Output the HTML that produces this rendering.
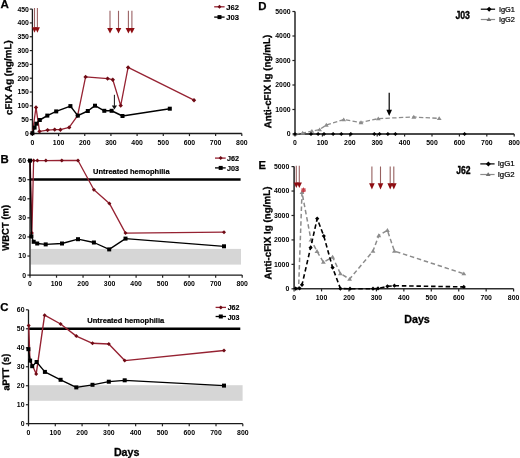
<!DOCTYPE html><html><head><meta charset="utf-8"><style>html,body{margin:0;padding:0;background:#fff}svg{display:block;will-change:transform}text{font-family:"Liberation Sans",sans-serif}</style></head><body>
<svg width="520" height="458" viewBox="0 0 520 458">
<rect width="520" height="458" fill="#fff"/>
<line x1="32.4" y1="9.1" x2="32.4" y2="134.1" stroke="#1a1a1a" stroke-width="1.3"/>
<line x1="31.8" y1="133.5" x2="241.8" y2="133.5" stroke="#1a1a1a" stroke-width="1.3"/>
<line x1="29.8" y1="133.5" x2="32.4" y2="133.5" stroke="#222" stroke-width="1.2"/>
<text x="28.9" y="135.9" font-size="6.9" font-weight="bold" text-anchor="end" fill="#000">0</text>
<line x1="29.8" y1="119.68" x2="32.4" y2="119.68" stroke="#222" stroke-width="1.2"/>
<text x="28.9" y="122.08" font-size="6.9" font-weight="bold" text-anchor="end" fill="#000">50</text>
<line x1="29.8" y1="105.86" x2="32.4" y2="105.86" stroke="#222" stroke-width="1.2"/>
<text x="28.9" y="108.26" font-size="6.9" font-weight="bold" text-anchor="end" fill="#000">100</text>
<line x1="29.8" y1="92.03" x2="32.4" y2="92.03" stroke="#222" stroke-width="1.2"/>
<text x="28.9" y="94.43" font-size="6.9" font-weight="bold" text-anchor="end" fill="#000">150</text>
<line x1="29.8" y1="78.21" x2="32.4" y2="78.21" stroke="#222" stroke-width="1.2"/>
<text x="28.9" y="80.61" font-size="6.9" font-weight="bold" text-anchor="end" fill="#000">200</text>
<line x1="29.8" y1="64.39" x2="32.4" y2="64.39" stroke="#222" stroke-width="1.2"/>
<text x="28.9" y="66.79" font-size="6.9" font-weight="bold" text-anchor="end" fill="#000">250</text>
<line x1="29.8" y1="50.57" x2="32.4" y2="50.57" stroke="#222" stroke-width="1.2"/>
<text x="28.9" y="52.97" font-size="6.9" font-weight="bold" text-anchor="end" fill="#000">300</text>
<line x1="29.8" y1="36.74" x2="32.4" y2="36.74" stroke="#222" stroke-width="1.2"/>
<text x="28.9" y="39.14" font-size="6.9" font-weight="bold" text-anchor="end" fill="#000">350</text>
<line x1="29.8" y1="22.92" x2="32.4" y2="22.92" stroke="#222" stroke-width="1.2"/>
<text x="28.9" y="25.32" font-size="6.9" font-weight="bold" text-anchor="end" fill="#000">400</text>
<line x1="29.8" y1="9.1" x2="32.4" y2="9.1" stroke="#222" stroke-width="1.2"/>
<text x="28.9" y="11.5" font-size="6.9" font-weight="bold" text-anchor="end" fill="#000">450</text>
<line x1="32.4" y1="133.5" x2="32.4" y2="136.1" stroke="#222" stroke-width="1.2"/>
<text x="32.4" y="144.9" font-size="6.9" font-weight="bold" text-anchor="middle" fill="#000">0</text>
<line x1="58.58" y1="133.5" x2="58.58" y2="136.1" stroke="#222" stroke-width="1.2"/>
<text x="58.58" y="144.9" font-size="6.9" font-weight="bold" text-anchor="middle" fill="#000">100</text>
<line x1="84.75" y1="133.5" x2="84.75" y2="136.1" stroke="#222" stroke-width="1.2"/>
<text x="84.75" y="144.9" font-size="6.9" font-weight="bold" text-anchor="middle" fill="#000">200</text>
<line x1="110.93" y1="133.5" x2="110.93" y2="136.1" stroke="#222" stroke-width="1.2"/>
<text x="110.93" y="144.9" font-size="6.9" font-weight="bold" text-anchor="middle" fill="#000">300</text>
<line x1="137.1" y1="133.5" x2="137.1" y2="136.1" stroke="#222" stroke-width="1.2"/>
<text x="137.1" y="144.9" font-size="6.9" font-weight="bold" text-anchor="middle" fill="#000">400</text>
<line x1="163.28" y1="133.5" x2="163.28" y2="136.1" stroke="#222" stroke-width="1.2"/>
<text x="163.28" y="144.9" font-size="6.9" font-weight="bold" text-anchor="middle" fill="#000">500</text>
<line x1="189.45" y1="133.5" x2="189.45" y2="136.1" stroke="#222" stroke-width="1.2"/>
<text x="189.45" y="144.9" font-size="6.9" font-weight="bold" text-anchor="middle" fill="#000">600</text>
<line x1="215.62" y1="133.5" x2="215.62" y2="136.1" stroke="#222" stroke-width="1.2"/>
<text x="215.62" y="144.9" font-size="6.9" font-weight="bold" text-anchor="middle" fill="#000">700</text>
<line x1="241.8" y1="133.5" x2="241.8" y2="136.1" stroke="#222" stroke-width="1.2"/>
<text x="241.8" y="144.9" font-size="6.9" font-weight="bold" text-anchor="middle" fill="#000">800</text>
<text transform="translate(11.6,77.6) rotate(-90.9)" x="0" y="0" font-size="9.7" font-weight="bold" text-anchor="middle" stroke="#000" stroke-width="0.3" textLength="74.6" lengthAdjust="spacingAndGlyphs">cFIX Ag (ng/mL)</text>
<text x="0.5" y="8.1" font-size="11.6" font-weight="bold" text-anchor="start" fill="#000" stroke="#000" stroke-width="0.25">A</text>
<polyline points="32.4,133.2 36,107.4 39.5,131.4 47.6,130.1 54.7,129.6 60.4,129.7 69.2,127.4 77.6,115.6 85.6,76.9 107.6,78.6 112.8,79.7 120.7,105.6 128.1,67.4 194,100.2" fill="none" stroke="#962232" stroke-width="1.3" stroke-linejoin="round"/>
<path d="M32.4 131L34.6 133.2L32.4 135.4L30.2 133.2Z" fill="#6e0a14"/>
<path d="M36 105.2L38.2 107.4L36 109.6L33.8 107.4Z" fill="#6e0a14"/>
<path d="M39.5 129.2L41.7 131.4L39.5 133.6L37.3 131.4Z" fill="#6e0a14"/>
<path d="M47.6 127.9L49.8 130.1L47.6 132.3L45.4 130.1Z" fill="#6e0a14"/>
<path d="M54.7 127.4L56.9 129.6L54.7 131.8L52.5 129.6Z" fill="#6e0a14"/>
<path d="M60.4 127.5L62.6 129.7L60.4 131.9L58.2 129.7Z" fill="#6e0a14"/>
<path d="M69.2 125.2L71.4 127.4L69.2 129.6L67 127.4Z" fill="#6e0a14"/>
<path d="M77.6 113.4L79.8 115.6L77.6 117.8L75.4 115.6Z" fill="#6e0a14"/>
<path d="M85.6 74.7L87.8 76.9L85.6 79.1L83.4 76.9Z" fill="#6e0a14"/>
<path d="M107.6 76.4L109.8 78.6L107.6 80.8L105.4 78.6Z" fill="#6e0a14"/>
<path d="M112.8 77.5L115 79.7L112.8 81.9L110.6 79.7Z" fill="#6e0a14"/>
<path d="M120.7 103.4L122.9 105.6L120.7 107.8L118.5 105.6Z" fill="#6e0a14"/>
<path d="M128.1 65.2L130.3 67.4L128.1 69.6L125.9 67.4Z" fill="#6e0a14"/>
<path d="M194 98L196.2 100.2L194 102.4L191.8 100.2Z" fill="#6e0a14"/>
<polyline points="32.4,133.2 34.6,127.6 36.3,123.7 39.8,120 47.3,115.6 56.2,111.4 70.4,106.1 77.8,115.6 87.8,111 95,105.7 104.3,110.8 111.6,110.8 122.5,116 169.8,108.7" fill="none" stroke="#000" stroke-width="1.5" stroke-linejoin="round"/>
<rect x="30.4" y="131.2" width="4" height="4" fill="#000"/>
<rect x="32.6" y="125.6" width="4" height="4" fill="#000"/>
<rect x="34.3" y="121.7" width="4" height="4" fill="#000"/>
<rect x="37.8" y="118" width="4" height="4" fill="#000"/>
<rect x="45.3" y="113.6" width="4" height="4" fill="#000"/>
<rect x="54.2" y="109.4" width="4" height="4" fill="#000"/>
<rect x="68.4" y="104.1" width="4" height="4" fill="#000"/>
<rect x="75.8" y="113.6" width="4" height="4" fill="#000"/>
<rect x="85.8" y="109" width="4" height="4" fill="#000"/>
<rect x="93" y="103.7" width="4" height="4" fill="#000"/>
<rect x="102.3" y="108.8" width="4" height="4" fill="#000"/>
<rect x="109.6" y="108.8" width="4" height="4" fill="#000"/>
<rect x="120.5" y="114" width="4" height="4" fill="#000"/>
<rect x="167.8" y="106.7" width="4" height="4" fill="#000"/>
<line x1="114.4" y1="94.8" x2="114.4" y2="105.9" stroke="#111" stroke-width="1.0"/>
<path d="M111.8 105.4L117 105.4L114.4 109.6Z" fill="#111"/>
<line x1="34.5" y1="8" x2="34.5" y2="27.8" stroke="#9a6264" stroke-width="1.1"/>
<path d="M32 27.3L37 27.3L34.5 32.8Z" fill="#8e0d12"/>
<line x1="37.4" y1="8" x2="37.4" y2="27.8" stroke="#9a6264" stroke-width="1.1"/>
<path d="M34.9 27.3L39.9 27.3L37.4 32.8Z" fill="#8e0d12"/>
<line x1="110" y1="10.8" x2="110" y2="28.4" stroke="#9a6264" stroke-width="1.1"/>
<path d="M107.2 27.9L112.8 27.9L110 33.6Z" fill="#8e0d12"/>
<line x1="118.5" y1="10.8" x2="118.5" y2="28.4" stroke="#9a6264" stroke-width="1.1"/>
<path d="M115.7 27.9L121.3 27.9L118.5 33.6Z" fill="#8e0d12"/>
<line x1="128.4" y1="10.8" x2="128.4" y2="28.4" stroke="#9a6264" stroke-width="1.1"/>
<path d="M125.6 27.9L131.2 27.9L128.4 33.6Z" fill="#8e0d12"/>
<line x1="131.9" y1="10.8" x2="131.9" y2="28.4" stroke="#9a6264" stroke-width="1.1"/>
<path d="M129.1 27.9L134.7 27.9L131.9 33.6Z" fill="#8e0d12"/>
<polyline points="214.2,6.8 224.6,6.8" fill="none" stroke="#962232" stroke-width="1.3" stroke-linejoin="round"/>
<path d="M219.5 4.8L221.5 6.8L219.5 8.8L217.5 6.8Z" fill="#6e0a14"/>
<text x="226.2" y="9.6" font-size="7.6" font-weight="bold" text-anchor="start" fill="#000" textLength="12.7" lengthAdjust="spacingAndGlyphs" stroke="#000" stroke-width="0.15">J62</text>
<polyline points="214.2,17.1 224.6,17.1" fill="none" stroke="#000" stroke-width="1.3" stroke-linejoin="round"/>
<rect x="217.5" y="15.1" width="4" height="4" fill="#000"/>
<text x="226.2" y="19.8" font-size="7.6" font-weight="bold" text-anchor="start" fill="#000" textLength="12.7" lengthAdjust="spacingAndGlyphs" stroke="#000" stroke-width="0.15">J03</text>
<rect x="30.6" y="248.9" width="210.4" height="15.7" fill="#d6d6d6"/>
<line x1="30" y1="160.6" x2="30" y2="275.7" stroke="#1a1a1a" stroke-width="1.3"/>
<line x1="29.4" y1="275.1" x2="242.2" y2="275.1" stroke="#1a1a1a" stroke-width="1.3"/>
<line x1="27.4" y1="275.1" x2="30" y2="275.1" stroke="#222" stroke-width="1.2"/>
<text x="26" y="277.5" font-size="6.9" font-weight="bold" text-anchor="end" fill="#000">0</text>
<line x1="27.4" y1="256.02" x2="30" y2="256.02" stroke="#222" stroke-width="1.2"/>
<text x="26" y="258.42" font-size="6.9" font-weight="bold" text-anchor="end" fill="#000">10</text>
<line x1="27.4" y1="236.93" x2="30" y2="236.93" stroke="#222" stroke-width="1.2"/>
<text x="26" y="239.33" font-size="6.9" font-weight="bold" text-anchor="end" fill="#000">20</text>
<line x1="27.4" y1="217.85" x2="30" y2="217.85" stroke="#222" stroke-width="1.2"/>
<text x="26" y="220.25" font-size="6.9" font-weight="bold" text-anchor="end" fill="#000">30</text>
<line x1="27.4" y1="198.77" x2="30" y2="198.77" stroke="#222" stroke-width="1.2"/>
<text x="26" y="201.17" font-size="6.9" font-weight="bold" text-anchor="end" fill="#000">40</text>
<line x1="27.4" y1="179.68" x2="30" y2="179.68" stroke="#222" stroke-width="1.2"/>
<text x="26" y="182.08" font-size="6.9" font-weight="bold" text-anchor="end" fill="#000">50</text>
<line x1="27.4" y1="160.6" x2="30" y2="160.6" stroke="#222" stroke-width="1.2"/>
<text x="26" y="163" font-size="6.9" font-weight="bold" text-anchor="end" fill="#000">60</text>
<line x1="30" y1="275.1" x2="30" y2="277.7" stroke="#222" stroke-width="1.2"/>
<text x="30" y="285.9" font-size="6.9" font-weight="bold" text-anchor="middle" fill="#000">0</text>
<line x1="56.52" y1="275.1" x2="56.52" y2="277.7" stroke="#222" stroke-width="1.2"/>
<text x="56.52" y="285.9" font-size="6.9" font-weight="bold" text-anchor="middle" fill="#000">100</text>
<line x1="83.05" y1="275.1" x2="83.05" y2="277.7" stroke="#222" stroke-width="1.2"/>
<text x="83.05" y="285.9" font-size="6.9" font-weight="bold" text-anchor="middle" fill="#000">200</text>
<line x1="109.57" y1="275.1" x2="109.57" y2="277.7" stroke="#222" stroke-width="1.2"/>
<text x="109.57" y="285.9" font-size="6.9" font-weight="bold" text-anchor="middle" fill="#000">300</text>
<line x1="136.1" y1="275.1" x2="136.1" y2="277.7" stroke="#222" stroke-width="1.2"/>
<text x="136.1" y="285.9" font-size="6.9" font-weight="bold" text-anchor="middle" fill="#000">400</text>
<line x1="162.62" y1="275.1" x2="162.62" y2="277.7" stroke="#222" stroke-width="1.2"/>
<text x="162.62" y="285.9" font-size="6.9" font-weight="bold" text-anchor="middle" fill="#000">500</text>
<line x1="189.15" y1="275.1" x2="189.15" y2="277.7" stroke="#222" stroke-width="1.2"/>
<text x="189.15" y="285.9" font-size="6.9" font-weight="bold" text-anchor="middle" fill="#000">600</text>
<line x1="215.67" y1="275.1" x2="215.67" y2="277.7" stroke="#222" stroke-width="1.2"/>
<text x="215.67" y="285.9" font-size="6.9" font-weight="bold" text-anchor="middle" fill="#000">700</text>
<line x1="242.2" y1="275.1" x2="242.2" y2="277.7" stroke="#222" stroke-width="1.2"/>
<text x="242.2" y="285.9" font-size="6.9" font-weight="bold" text-anchor="middle" fill="#000">800</text>
<text transform="translate(8.7,227.8) rotate(-90.9)" x="0" y="0" font-size="9.7" font-weight="bold" text-anchor="middle" stroke="#000" stroke-width="0.3" textLength="46" lengthAdjust="spacingAndGlyphs">WBCT (m)</text>
<text x="0.5" y="163" font-size="11.4" font-weight="bold" text-anchor="start" fill="#000" stroke="#000" stroke-width="0.25">B</text>
<line x1="30.0" y1="179.5" x2="240.6" y2="179.5" stroke="#000" stroke-width="2.4"/>
<text x="93" y="174" font-size="7.5" font-weight="bold" text-anchor="start" fill="#000" textLength="76.6" lengthAdjust="spacingAndGlyphs" stroke="#000" stroke-width="0.2">Untreated hemophilia</text>
<polyline points="30.2,160.6 31.9,233 33.6,160.6 37.4,160.6 45.9,160.6 61.8,160.5 78,160.5 93.9,189.7 109.4,203.4 125.5,233.1 224,232.2" fill="none" stroke="#962232" stroke-width="1.3" stroke-linejoin="round"/>
<path d="M33.6 158.6L35.6 160.6L33.6 162.6L31.6 160.6Z" fill="#6e0a14"/>
<path d="M37.4 158.6L39.4 160.6L37.4 162.6L35.4 160.6Z" fill="#6e0a14"/>
<path d="M45.9 158.6L47.9 160.6L45.9 162.6L43.9 160.6Z" fill="#6e0a14"/>
<path d="M61.8 158.5L63.8 160.5L61.8 162.5L59.8 160.5Z" fill="#6e0a14"/>
<path d="M78 158.5L80 160.5L78 162.5L76 160.5Z" fill="#6e0a14"/>
<path d="M93.9 187.7L95.9 189.7L93.9 191.7L91.9 189.7Z" fill="#6e0a14"/>
<path d="M109.4 201.4L111.4 203.4L109.4 205.4L107.4 203.4Z" fill="#6e0a14"/>
<path d="M125.5 231.1L127.5 233.1L125.5 235.1L123.5 233.1Z" fill="#6e0a14"/>
<path d="M224 230.2L226 232.2L224 234.2L222 232.2Z" fill="#6e0a14"/>
<path d="M31.9 231L33.9 233L31.9 235L29.9 233Z" fill="#6e0a14"/>
<polyline points="30,160.6 31.4,236.4 33.7,241.8 37.2,243.5 45.7,244.4 62,243.5 78,239.2 93.9,242.5 109.2,249.4 125.5,238.6 224,246.3" fill="none" stroke="#000" stroke-width="1.3" stroke-linejoin="round"/>
<rect x="28" y="158.6" width="4" height="4" fill="#000"/>
<rect x="29.4" y="234.4" width="4" height="4" fill="#000"/>
<rect x="31.7" y="239.8" width="4" height="4" fill="#000"/>
<rect x="35.2" y="241.5" width="4" height="4" fill="#000"/>
<rect x="43.7" y="242.4" width="4" height="4" fill="#000"/>
<rect x="60" y="241.5" width="4" height="4" fill="#000"/>
<rect x="76" y="237.2" width="4" height="4" fill="#000"/>
<rect x="91.9" y="240.5" width="4" height="4" fill="#000"/>
<rect x="107.2" y="247.4" width="4" height="4" fill="#000"/>
<rect x="123.5" y="236.6" width="4" height="4" fill="#000"/>
<rect x="222" y="244.3" width="4" height="4" fill="#000"/>
<polyline points="215,158.1 225.7,158.1" fill="none" stroke="#962232" stroke-width="1.3" stroke-linejoin="round"/>
<path d="M220.7 156.1L222.7 158.1L220.7 160.1L218.7 158.1Z" fill="#6e0a14"/>
<text x="227" y="160.8" font-size="7.0" font-weight="bold" text-anchor="start" fill="#000" textLength="12.1" lengthAdjust="spacingAndGlyphs" stroke="#000" stroke-width="0.15">J62</text>
<polyline points="215,167.9 225.7,167.9" fill="none" stroke="#000" stroke-width="1.3" stroke-linejoin="round"/>
<rect x="218.7" y="165.9" width="4" height="4" fill="#000"/>
<text x="227" y="170.6" font-size="7.0" font-weight="bold" text-anchor="start" fill="#000" textLength="12.1" lengthAdjust="spacingAndGlyphs" stroke="#000" stroke-width="0.15">J03</text>
<rect x="29.1" y="385.2" width="213.5" height="15.6" fill="#d6d6d6"/>
<line x1="28.5" y1="309.8" x2="28.5" y2="424.3" stroke="#1a1a1a" stroke-width="1.3"/>
<line x1="27.9" y1="423.7" x2="242.8" y2="423.7" stroke="#1a1a1a" stroke-width="1.3"/>
<line x1="25.9" y1="423.7" x2="28.5" y2="423.7" stroke="#222" stroke-width="1.2"/>
<text x="24.5" y="426.1" font-size="6.9" font-weight="bold" text-anchor="end" fill="#000">0</text>
<line x1="25.9" y1="404.72" x2="28.5" y2="404.72" stroke="#222" stroke-width="1.2"/>
<text x="24.5" y="407.12" font-size="6.9" font-weight="bold" text-anchor="end" fill="#000">10</text>
<line x1="25.9" y1="385.73" x2="28.5" y2="385.73" stroke="#222" stroke-width="1.2"/>
<text x="24.5" y="388.13" font-size="6.9" font-weight="bold" text-anchor="end" fill="#000">20</text>
<line x1="25.9" y1="366.75" x2="28.5" y2="366.75" stroke="#222" stroke-width="1.2"/>
<text x="24.5" y="369.15" font-size="6.9" font-weight="bold" text-anchor="end" fill="#000">30</text>
<line x1="25.9" y1="347.77" x2="28.5" y2="347.77" stroke="#222" stroke-width="1.2"/>
<text x="24.5" y="350.17" font-size="6.9" font-weight="bold" text-anchor="end" fill="#000">40</text>
<line x1="25.9" y1="328.78" x2="28.5" y2="328.78" stroke="#222" stroke-width="1.2"/>
<text x="24.5" y="331.18" font-size="6.9" font-weight="bold" text-anchor="end" fill="#000">50</text>
<line x1="25.9" y1="309.8" x2="28.5" y2="309.8" stroke="#222" stroke-width="1.2"/>
<text x="24.5" y="312.2" font-size="6.9" font-weight="bold" text-anchor="end" fill="#000">60</text>
<line x1="28.5" y1="423.7" x2="28.5" y2="426.3" stroke="#222" stroke-width="1.2"/>
<text x="28.5" y="435.1" font-size="6.9" font-weight="bold" text-anchor="middle" fill="#000">0</text>
<line x1="55.29" y1="423.7" x2="55.29" y2="426.3" stroke="#222" stroke-width="1.2"/>
<text x="55.29" y="435.1" font-size="6.9" font-weight="bold" text-anchor="middle" fill="#000">100</text>
<line x1="82.08" y1="423.7" x2="82.08" y2="426.3" stroke="#222" stroke-width="1.2"/>
<text x="82.08" y="435.1" font-size="6.9" font-weight="bold" text-anchor="middle" fill="#000">200</text>
<line x1="108.86" y1="423.7" x2="108.86" y2="426.3" stroke="#222" stroke-width="1.2"/>
<text x="108.86" y="435.1" font-size="6.9" font-weight="bold" text-anchor="middle" fill="#000">300</text>
<line x1="135.65" y1="423.7" x2="135.65" y2="426.3" stroke="#222" stroke-width="1.2"/>
<text x="135.65" y="435.1" font-size="6.9" font-weight="bold" text-anchor="middle" fill="#000">400</text>
<line x1="162.44" y1="423.7" x2="162.44" y2="426.3" stroke="#222" stroke-width="1.2"/>
<text x="162.44" y="435.1" font-size="6.9" font-weight="bold" text-anchor="middle" fill="#000">500</text>
<line x1="189.23" y1="423.7" x2="189.23" y2="426.3" stroke="#222" stroke-width="1.2"/>
<text x="189.23" y="435.1" font-size="6.9" font-weight="bold" text-anchor="middle" fill="#000">600</text>
<line x1="216.01" y1="423.7" x2="216.01" y2="426.3" stroke="#222" stroke-width="1.2"/>
<text x="216.01" y="435.1" font-size="6.9" font-weight="bold" text-anchor="middle" fill="#000">700</text>
<line x1="242.8" y1="423.7" x2="242.8" y2="426.3" stroke="#222" stroke-width="1.2"/>
<text x="242.8" y="435.1" font-size="6.9" font-weight="bold" text-anchor="middle" fill="#000">800</text>
<text transform="translate(9.1,372.1) rotate(-90.9)" x="0" y="0" font-size="9.7" font-weight="bold" text-anchor="middle" stroke="#000" stroke-width="0.3" textLength="37" lengthAdjust="spacingAndGlyphs">aPTT (s)</text>
<text x="0.3" y="311.2" font-size="11.4" font-weight="bold" text-anchor="start" fill="#000" stroke="#000" stroke-width="0.25">C</text>
<line x1="28.5" y1="328.8" x2="240.3" y2="328.8" stroke="#000" stroke-width="2.4"/>
<text x="87.3" y="323.3" font-size="7.5" font-weight="bold" text-anchor="start" fill="#000" textLength="76.9" lengthAdjust="spacingAndGlyphs" stroke="#000" stroke-width="0.2">Untreated hemophilia</text>
<polyline points="28.7,325.6 29.9,359.5 36.2,374 44.6,315.2 60.6,324 76.3,336.1 92.5,343.3 108.8,344 124.7,360.6 224,350.5" fill="none" stroke="#962232" stroke-width="1.4" stroke-linejoin="round"/>
<path d="M28.7 323.6L30.7 325.6L28.7 327.6L26.7 325.6Z" fill="#6e0a14"/>
<path d="M36.2 372L38.2 374L36.2 376L34.2 374Z" fill="#6e0a14"/>
<path d="M44.6 313.2L46.6 315.2L44.6 317.2L42.6 315.2Z" fill="#6e0a14"/>
<path d="M60.6 322L62.6 324L60.6 326L58.6 324Z" fill="#6e0a14"/>
<path d="M76.3 334.1L78.3 336.1L76.3 338.1L74.3 336.1Z" fill="#6e0a14"/>
<path d="M92.5 341.3L94.5 343.3L92.5 345.3L90.5 343.3Z" fill="#6e0a14"/>
<path d="M108.8 342L110.8 344L108.8 346L106.8 344Z" fill="#6e0a14"/>
<path d="M124.7 358.6L126.7 360.6L124.7 362.6L122.7 360.6Z" fill="#6e0a14"/>
<path d="M224 348.5L226 350.5L224 352.5L222 350.5Z" fill="#6e0a14"/>
<polyline points="28.4,349.2 30.1,360.6 32.2,366.2 36.6,362 44.9,371.9 60.6,379.8 76.3,387.4 92.5,384.8 108.8,381.7 124.7,380.3 224,385.6" fill="none" stroke="#000" stroke-width="1.3" stroke-linejoin="round"/>
<rect x="26.4" y="347.2" width="4" height="4" fill="#000"/>
<rect x="28.1" y="358.6" width="4" height="4" fill="#000"/>
<rect x="30.2" y="364.2" width="4" height="4" fill="#000"/>
<rect x="34.6" y="360" width="4" height="4" fill="#000"/>
<rect x="42.9" y="369.9" width="4" height="4" fill="#000"/>
<rect x="58.6" y="377.8" width="4" height="4" fill="#000"/>
<rect x="74.3" y="385.4" width="4" height="4" fill="#000"/>
<rect x="90.5" y="382.8" width="4" height="4" fill="#000"/>
<rect x="106.8" y="379.7" width="4" height="4" fill="#000"/>
<rect x="122.7" y="378.3" width="4" height="4" fill="#000"/>
<rect x="222" y="383.6" width="4" height="4" fill="#000"/>
<polyline points="215.6,307.4 226,307.4" fill="none" stroke="#962232" stroke-width="1.3" stroke-linejoin="round"/>
<path d="M220.8 305.4L222.8 307.4L220.8 309.4L218.8 307.4Z" fill="#6e0a14"/>
<text x="227.7" y="310.2" font-size="7.0" font-weight="bold" text-anchor="start" fill="#000" textLength="11.8" lengthAdjust="spacingAndGlyphs" stroke="#000" stroke-width="0.15">J62</text>
<polyline points="215.6,316.5 226,316.5" fill="none" stroke="#000" stroke-width="1.3" stroke-linejoin="round"/>
<rect x="218.8" y="314.5" width="4" height="4" fill="#000"/>
<text x="227.7" y="319.5" font-size="7.0" font-weight="bold" text-anchor="start" fill="#000" textLength="11.8" lengthAdjust="spacingAndGlyphs" stroke="#000" stroke-width="0.15">J03</text>
<text x="113.9" y="455.7" font-size="10.9" font-weight="bold" text-anchor="start" fill="#000" textLength="25.6" lengthAdjust="spacingAndGlyphs" stroke="#000" stroke-width="0.3">Days</text>
<line x1="295" y1="11.5" x2="295" y2="134.6" stroke="#4a4a4a" stroke-width="1.8"/>
<line x1="294.4" y1="134" x2="514.2" y2="134" stroke="#4a4a4a" stroke-width="1.8"/>
<line x1="292.4" y1="134" x2="295" y2="134" stroke="#222" stroke-width="1.2"/>
<text x="290.6" y="136.4" font-size="6.9" font-weight="bold" text-anchor="end" fill="#000">0</text>
<line x1="292.4" y1="109.5" x2="295" y2="109.5" stroke="#222" stroke-width="1.2"/>
<text x="290.6" y="111.9" font-size="6.9" font-weight="bold" text-anchor="end" fill="#000">1000</text>
<line x1="292.4" y1="85" x2="295" y2="85" stroke="#222" stroke-width="1.2"/>
<text x="290.6" y="87.4" font-size="6.9" font-weight="bold" text-anchor="end" fill="#000">2000</text>
<line x1="292.4" y1="60.5" x2="295" y2="60.5" stroke="#222" stroke-width="1.2"/>
<text x="290.6" y="62.9" font-size="6.9" font-weight="bold" text-anchor="end" fill="#000">3000</text>
<line x1="292.4" y1="36" x2="295" y2="36" stroke="#222" stroke-width="1.2"/>
<text x="290.6" y="38.4" font-size="6.9" font-weight="bold" text-anchor="end" fill="#000">4000</text>
<line x1="292.4" y1="11.5" x2="295" y2="11.5" stroke="#222" stroke-width="1.2"/>
<text x="290.6" y="13.9" font-size="6.9" font-weight="bold" text-anchor="end" fill="#000">5000</text>
<line x1="295" y1="134" x2="295" y2="136.6" stroke="#222" stroke-width="1.2"/>
<text x="295" y="145.4" font-size="6.9" font-weight="bold" text-anchor="middle" fill="#000">0</text>
<line x1="322.4" y1="134" x2="322.4" y2="136.6" stroke="#222" stroke-width="1.2"/>
<text x="322.4" y="145.4" font-size="6.9" font-weight="bold" text-anchor="middle" fill="#000">100</text>
<line x1="349.8" y1="134" x2="349.8" y2="136.6" stroke="#222" stroke-width="1.2"/>
<text x="349.8" y="145.4" font-size="6.9" font-weight="bold" text-anchor="middle" fill="#000">200</text>
<line x1="377.2" y1="134" x2="377.2" y2="136.6" stroke="#222" stroke-width="1.2"/>
<text x="377.2" y="145.4" font-size="6.9" font-weight="bold" text-anchor="middle" fill="#000">300</text>
<line x1="404.6" y1="134" x2="404.6" y2="136.6" stroke="#222" stroke-width="1.2"/>
<text x="404.6" y="145.4" font-size="6.9" font-weight="bold" text-anchor="middle" fill="#000">400</text>
<line x1="432" y1="134" x2="432" y2="136.6" stroke="#222" stroke-width="1.2"/>
<text x="432" y="145.4" font-size="6.9" font-weight="bold" text-anchor="middle" fill="#000">500</text>
<line x1="459.4" y1="134" x2="459.4" y2="136.6" stroke="#222" stroke-width="1.2"/>
<text x="459.4" y="145.4" font-size="6.9" font-weight="bold" text-anchor="middle" fill="#000">600</text>
<line x1="486.8" y1="134" x2="486.8" y2="136.6" stroke="#222" stroke-width="1.2"/>
<text x="486.8" y="145.4" font-size="6.9" font-weight="bold" text-anchor="middle" fill="#000">700</text>
<line x1="514.2" y1="134" x2="514.2" y2="136.6" stroke="#222" stroke-width="1.2"/>
<text x="514.2" y="145.4" font-size="6.9" font-weight="bold" text-anchor="middle" fill="#000">800</text>
<text transform="translate(270.6,81.5) rotate(-90.9)" x="0" y="0" font-size="9.8" font-weight="bold" text-anchor="middle" stroke="#000" stroke-width="0.3" textLength="93.6" lengthAdjust="spacingAndGlyphs">Anti-cFIX Ig (ng/mL)</text>
<text x="258.3" y="10.2" font-size="11.4" font-weight="bold" text-anchor="start" fill="#000" stroke="#000" stroke-width="0.25">D</text>
<polyline points="295,134 302.7,133 311.9,131.2 319.6,129.6 326.3,125 343.7,119.6 361,122.5 378.3,118.6 413.8,117 439.2,118.4" fill="none" stroke="#8c8c8c" stroke-width="1.3" stroke-linejoin="round" stroke-dasharray="4.4,2.3"/>
<path d="M295 131.8L297.42 135.65L292.58 135.65Z" fill="#8c8c8c"/>
<path d="M302.7 130.8L305.12 134.65L300.28 134.65Z" fill="#8c8c8c"/>
<path d="M311.9 129L314.32 132.85L309.48 132.85Z" fill="#8c8c8c"/>
<path d="M319.6 127.4L322.02 131.25L317.18 131.25Z" fill="#8c8c8c"/>
<path d="M326.3 122.8L328.72 126.65L323.88 126.65Z" fill="#8c8c8c"/>
<path d="M343.7 117.4L346.12 121.25L341.28 121.25Z" fill="#8c8c8c"/>
<path d="M361 120.3L363.42 124.15L358.58 124.15Z" fill="#8c8c8c"/>
<path d="M378.3 116.4L380.72 120.25L375.88 120.25Z" fill="#8c8c8c"/>
<path d="M413.8 114.8L416.22 118.65L411.38 118.65Z" fill="#8c8c8c"/>
<path d="M439.2 116.2L441.62 120.05L436.78 120.05Z" fill="#8c8c8c"/>
<path d="M295 131.9L297.1 134L295 136.1L292.9 134Z" fill="#000"/>
<path d="M311 131.9L313.1 134L311 136.1L308.9 134Z" fill="#000"/>
<path d="M318.1 131.9L320.2 134L318.1 136.1L316 134Z" fill="#000"/>
<path d="M324 131.9L326.1 134L324 136.1L321.9 134Z" fill="#000"/>
<path d="M333.1 131.9L335.2 134L333.1 136.1L331 134Z" fill="#000"/>
<path d="M341.3 131.9L343.4 134L341.3 136.1L339.2 134Z" fill="#000"/>
<path d="M350.8 131.9L352.9 134L350.8 136.1L348.7 134Z" fill="#000"/>
<path d="M374.3 131.9L376.4 134L374.3 136.1L372.2 134Z" fill="#000"/>
<path d="M379.5 131.9L381.6 134L379.5 136.1L377.4 134Z" fill="#000"/>
<path d="M387.9 131.9L390 134L387.9 136.1L385.8 134Z" fill="#000"/>
<path d="M395.4 131.9L397.5 134L395.4 136.1L393.3 134Z" fill="#000"/>
<path d="M464.6 131.9L466.7 134L464.6 136.1L462.5 134Z" fill="#000"/>
<line x1="389.2" y1="92.8" x2="389.2" y2="110.3" stroke="#000" stroke-width="1.2"/>
<path d="M386.4 109.8L392 109.8L389.2 116Z" fill="#000"/>
<text x="455.4" y="18.8" font-size="10.2" font-weight="bold" text-anchor="start" fill="#000" textLength="14.6" lengthAdjust="spacingAndGlyphs" stroke="#000" stroke-width="0.35">J03</text>
<polyline points="480.8,9.2 495.1,9.2" fill="none" stroke="#000" stroke-width="1.2" stroke-linejoin="round"/>
<path d="M489.1 6.7L491.6 9.2L489.1 11.7L486.6 9.2Z" fill="#000"/>
<text x="498.9" y="11.6" font-size="6.9" font-weight="normal" text-anchor="start" fill="#000" textLength="16" lengthAdjust="spacingAndGlyphs" stroke="#000" stroke-width="0.2">IgG1</text>
<polyline points="480.8,19.5 495.1,19.5" fill="none" stroke="#8c8c8c" stroke-width="1.2" stroke-linejoin="round"/>
<path d="M488.9 17.2L491.32 21.05L486.48 21.05Z" fill="#707070"/>
<text x="498.9" y="21.9" font-size="6.9" font-weight="normal" text-anchor="start" fill="#000" textLength="16" lengthAdjust="spacingAndGlyphs" stroke="#000" stroke-width="0.2">IgG2</text>
<line x1="294.1" y1="166.6" x2="294.1" y2="289.4" stroke="#2e2e2e" stroke-width="1.6"/>
<line x1="293.5" y1="288.8" x2="513.6" y2="288.8" stroke="#2e2e2e" stroke-width="1.6"/>
<line x1="291.5" y1="288.8" x2="294.1" y2="288.8" stroke="#222" stroke-width="1.2"/>
<text x="289.3" y="291.2" font-size="6.9" font-weight="bold" text-anchor="end" fill="#000">0</text>
<line x1="291.5" y1="264.36" x2="294.1" y2="264.36" stroke="#222" stroke-width="1.2"/>
<text x="289.3" y="266.76" font-size="6.9" font-weight="bold" text-anchor="end" fill="#000">1000</text>
<line x1="291.5" y1="239.92" x2="294.1" y2="239.92" stroke="#222" stroke-width="1.2"/>
<text x="289.3" y="242.32" font-size="6.9" font-weight="bold" text-anchor="end" fill="#000">2000</text>
<line x1="291.5" y1="215.48" x2="294.1" y2="215.48" stroke="#222" stroke-width="1.2"/>
<text x="289.3" y="217.88" font-size="6.9" font-weight="bold" text-anchor="end" fill="#000">3000</text>
<line x1="291.5" y1="191.04" x2="294.1" y2="191.04" stroke="#222" stroke-width="1.2"/>
<text x="289.3" y="193.44" font-size="6.9" font-weight="bold" text-anchor="end" fill="#000">4000</text>
<line x1="291.5" y1="166.6" x2="294.1" y2="166.6" stroke="#222" stroke-width="1.2"/>
<text x="289.3" y="169" font-size="6.9" font-weight="bold" text-anchor="end" fill="#000">5000</text>
<line x1="294.1" y1="288.8" x2="294.1" y2="291.4" stroke="#222" stroke-width="1.2"/>
<text x="294.1" y="300.2" font-size="6.9" font-weight="bold" text-anchor="middle" fill="#000">0</text>
<line x1="321.54" y1="288.8" x2="321.54" y2="291.4" stroke="#222" stroke-width="1.2"/>
<text x="321.54" y="300.2" font-size="6.9" font-weight="bold" text-anchor="middle" fill="#000">100</text>
<line x1="348.98" y1="288.8" x2="348.98" y2="291.4" stroke="#222" stroke-width="1.2"/>
<text x="348.98" y="300.2" font-size="6.9" font-weight="bold" text-anchor="middle" fill="#000">200</text>
<line x1="376.41" y1="288.8" x2="376.41" y2="291.4" stroke="#222" stroke-width="1.2"/>
<text x="376.41" y="300.2" font-size="6.9" font-weight="bold" text-anchor="middle" fill="#000">300</text>
<line x1="403.85" y1="288.8" x2="403.85" y2="291.4" stroke="#222" stroke-width="1.2"/>
<text x="403.85" y="300.2" font-size="6.9" font-weight="bold" text-anchor="middle" fill="#000">400</text>
<line x1="431.29" y1="288.8" x2="431.29" y2="291.4" stroke="#222" stroke-width="1.2"/>
<text x="431.29" y="300.2" font-size="6.9" font-weight="bold" text-anchor="middle" fill="#000">500</text>
<line x1="458.73" y1="288.8" x2="458.73" y2="291.4" stroke="#222" stroke-width="1.2"/>
<text x="458.73" y="300.2" font-size="6.9" font-weight="bold" text-anchor="middle" fill="#000">600</text>
<line x1="486.16" y1="288.8" x2="486.16" y2="291.4" stroke="#222" stroke-width="1.2"/>
<text x="486.16" y="300.2" font-size="6.9" font-weight="bold" text-anchor="middle" fill="#000">700</text>
<line x1="513.6" y1="288.8" x2="513.6" y2="291.4" stroke="#222" stroke-width="1.2"/>
<text x="513.6" y="300.2" font-size="6.9" font-weight="bold" text-anchor="middle" fill="#000">800</text>
<text transform="translate(270.7,233.1) rotate(-90.9)" x="0" y="0" font-size="9.8" font-weight="bold" text-anchor="middle" stroke="#000" stroke-width="0.3" textLength="93" lengthAdjust="spacingAndGlyphs">Anti-cFIX Ig (ng/mL)</text>
<text x="258.4" y="168.7" font-size="11.2" font-weight="bold" text-anchor="start" fill="#000" stroke="#000" stroke-width="0.25">E</text>
<polyline points="295.6,288.6 298.6,288.3 302,192.4 311,239.9 317,251.3 323.4,262.2 332.6,257 340.4,273.6 349.6,279.1 373,251.1 378.8,235.5 387.4,230.3 394.4,251.1 463.8,273.7" fill="none" stroke="#8c8c8c" stroke-width="1.5" stroke-linejoin="round" stroke-dasharray="4.5,2.8"/>
<path d="M295.6 286.4L298.02 290.25L293.18 290.25Z" fill="#8c8c8c"/>
<path d="M298.6 286.1L301.02 289.95L296.18 289.95Z" fill="#8c8c8c"/>
<path d="M302 190.2L304.42 194.05L299.58 194.05Z" fill="#8c8c8c"/>
<path d="M311 237.7L313.42 241.55L308.58 241.55Z" fill="#8c8c8c"/>
<path d="M317 249.1L319.42 252.95L314.58 252.95Z" fill="#8c8c8c"/>
<path d="M323.4 260L325.82 263.85L320.98 263.85Z" fill="#8c8c8c"/>
<path d="M332.6 254.8L335.02 258.65L330.18 258.65Z" fill="#8c8c8c"/>
<path d="M340.4 271.4L342.82 275.25L337.98 275.25Z" fill="#8c8c8c"/>
<path d="M349.6 276.9L352.02 280.75L347.18 280.75Z" fill="#8c8c8c"/>
<path d="M373 248.9L375.42 252.75L370.58 252.75Z" fill="#8c8c8c"/>
<path d="M378.8 233.3L381.22 237.15L376.38 237.15Z" fill="#8c8c8c"/>
<path d="M387.4 228.1L389.82 231.95L384.98 231.95Z" fill="#8c8c8c"/>
<path d="M394.4 248.9L396.82 252.75L391.98 252.75Z" fill="#8c8c8c"/>
<path d="M463.8 271.5L466.22 275.35L461.38 275.35Z" fill="#8c8c8c"/>
<polyline points="295.6,288.6 299.6,288.3 302,284.8 310.6,247.7 317.2,218.6 323.8,236 332.6,267.6 340.4,288.6 350,288.7 373,288.7 378,288.4 387.4,286.3 394.4,285.7 463.8,286.9" fill="none" stroke="#000" stroke-width="1.6" stroke-linejoin="round" stroke-dasharray="4.5,2.8"/>
<path d="M295.6 286.5L297.7 288.6L295.6 290.7L293.5 288.6Z" fill="#000"/>
<path d="M299.6 286.2L301.7 288.3L299.6 290.4L297.5 288.3Z" fill="#000"/>
<path d="M302 282.7L304.1 284.8L302 286.9L299.9 284.8Z" fill="#000"/>
<path d="M310.6 245.6L312.7 247.7L310.6 249.8L308.5 247.7Z" fill="#000"/>
<path d="M317.2 216.5L319.3 218.6L317.2 220.7L315.1 218.6Z" fill="#000"/>
<path d="M323.8 233.9L325.9 236L323.8 238.1L321.7 236Z" fill="#000"/>
<path d="M332.6 265.5L334.7 267.6L332.6 269.7L330.5 267.6Z" fill="#000"/>
<path d="M340.4 286.5L342.5 288.6L340.4 290.7L338.3 288.6Z" fill="#000"/>
<path d="M350 286.6L352.1 288.7L350 290.8L347.9 288.7Z" fill="#000"/>
<path d="M373 286.6L375.1 288.7L373 290.8L370.9 288.7Z" fill="#000"/>
<path d="M378 286.3L380.1 288.4L378 290.5L375.9 288.4Z" fill="#000"/>
<path d="M387.4 284.2L389.5 286.3L387.4 288.4L385.3 286.3Z" fill="#000"/>
<path d="M394.4 283.6L396.5 285.7L394.4 287.8L392.3 285.7Z" fill="#000"/>
<path d="M463.8 284.8L465.9 286.9L463.8 289L461.7 286.9Z" fill="#000"/>
<line x1="296.3" y1="165.7" x2="296.3" y2="183" stroke="#9a6264" stroke-width="1.1"/>
<path d="M293.7 182.5L298.9 182.5L296.3 187.9Z" fill="#8e0d12"/>
<line x1="299.3" y1="165.7" x2="299.3" y2="183" stroke="#9a6264" stroke-width="1.1"/>
<path d="M296.7 182.5L301.9 182.5L299.3 187.9Z" fill="#8e0d12"/>
<line x1="371.9" y1="166.5" x2="371.9" y2="183.8" stroke="#96605f" stroke-width="1.1"/>
<path d="M369.1 183.3L374.7 183.3L371.9 189.4Z" fill="#8e0d12"/>
<line x1="380.5" y1="166.5" x2="380.5" y2="183.8" stroke="#96605f" stroke-width="1.1"/>
<path d="M377.7 183.3L383.3 183.3L380.5 189.4Z" fill="#8e0d12"/>
<line x1="390.2" y1="166.5" x2="390.2" y2="183.8" stroke="#96605f" stroke-width="1.1"/>
<path d="M387.4 183.3L393 183.3L390.2 189.4Z" fill="#8e0d12"/>
<line x1="393.8" y1="166.5" x2="393.8" y2="183.8" stroke="#96605f" stroke-width="1.1"/>
<path d="M391 183.3L396.6 183.3L393.8 189.4Z" fill="#8e0d12"/>
<g stroke="#c23a44" stroke-width="1.1"><line x1="301" y1="190.1" x2="306" y2="190.1"/><line x1="303.5" y1="187.6" x2="303.5" y2="192.6"/><line x1="301.7" y1="188.3" x2="305.3" y2="191.9"/><line x1="305.3" y1="188.3" x2="301.7" y2="191.9"/></g>
<text x="456.2" y="174.1" font-size="10.2" font-weight="bold" text-anchor="start" fill="#000" textLength="14.3" lengthAdjust="spacingAndGlyphs" stroke="#000" stroke-width="0.35">J62</text>
<polyline points="480.3,163.9 494.6,163.9" fill="none" stroke="#000" stroke-width="1.2" stroke-linejoin="round"/>
<path d="M488.4 161.4L490.9 163.9L488.4 166.4L485.9 163.9Z" fill="#000"/>
<text x="497.7" y="166.3" font-size="6.9" font-weight="normal" text-anchor="start" fill="#000" textLength="16.9" lengthAdjust="spacingAndGlyphs" stroke="#000" stroke-width="0.2">IgG1</text>
<polyline points="480.3,174.5 494.6,174.5" fill="none" stroke="#8c8c8c" stroke-width="1.2" stroke-linejoin="round"/>
<path d="M488.2 172.2L490.62 176.05L485.78 176.05Z" fill="#707070"/>
<text x="497.7" y="176.9" font-size="6.9" font-weight="normal" text-anchor="start" fill="#000" textLength="16.9" lengthAdjust="spacingAndGlyphs" stroke="#000" stroke-width="0.2">IgG2</text>
<text x="404.2" y="322.6" font-size="10.8" font-weight="bold" text-anchor="start" fill="#000" textLength="25.6" lengthAdjust="spacingAndGlyphs" stroke="#000" stroke-width="0.3">Days</text>
</svg></body></html>
